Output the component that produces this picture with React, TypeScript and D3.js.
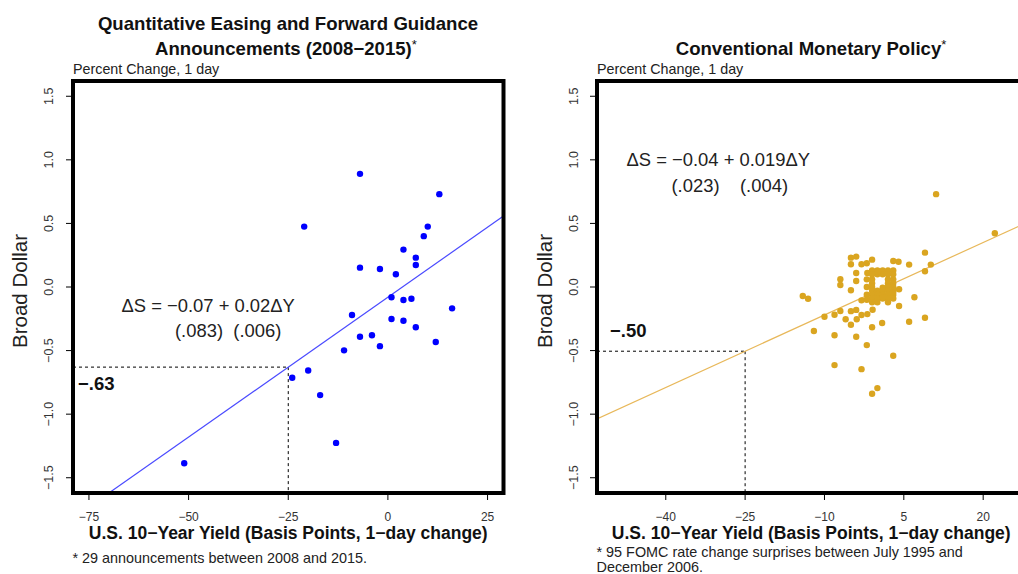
import React from "react";
import * as d3 from "d3";

// ---------- Data ----------
const qeYield = [-7.0, 12.9, -21.0, 10.0, 9.0, 3.9, 7.0, 7.0, -7.0, -2.0, 2.0, 0.9, 3.9, 5.9, 16.1, -9.0, 0.9, 3.9, 7.0, -7.0, -4.0, -2.0, 12.0, -11.0, -20.0, -24.0, -17.0, -13.0, -51.1];
const qeDollar = [0.89, 0.73, 0.475, 0.475, 0.40, 0.294, 0.231, 0.173, 0.152, 0.142, 0.10, -0.081, -0.102, -0.092, -0.168, -0.22, -0.252, -0.265, -0.317, -0.391, -0.38, -0.465, -0.433, -0.498, -0.657, -0.714, -0.85, -1.226, -1.386];

const convYield = [
  11.1, 22.2, 9.0, -5.0, -4.0, -5.0, -3.0, -2.0, -1.0, 3.0, 4.0, 6.0, 10.1, -4.0, -1.9, 9.0, -7.0, -7.0, -4.0, -5.0,
  -14.1, -13.1, 7.0, -3.0, 4.1, 4.1, -0.9, -10.0, -8.1, -7.0, -6.0, -3.9, -3.0, -1.9, -5.0, -1.0, 0.9, 6.0, 9.0, -12.0,
  -8.1, -4.0, -2.0, 3.0, -8.1, -3.0, 0.0, -1.0, -5.0, -4.0,
  -1, 0, 1, 2, 3,
  -1, 0, 1, 2, 3,
  -2, -1, 2, 3,
  -1, 2, 3,
  -2, -1, 2, 3, 1,
  -1, 0, 1, 2, 3,
  -2, -1, 0, 1, 2, 3,
  -1, 0, 1, 2, 3,
  -1, 0, 2,
  0, 1, -2, 3,
];
const convDollar = [
  0.73, 0.423, 0.27, 0.231, 0.239, 0.179, 0.179, 0.187, 0.215, 0.205, 0.199, 0.176, 0.176, 0.11, 0.11, 0.124, 0.061, 0.016, 0.047, -0.026,
  -0.071, -0.092, -0.081, -0.105, -0.018, -0.15, -0.179, -0.234, -0.218, -0.189, -0.254, -0.254, -0.22, -0.213, -0.297, -0.317, -0.283, -0.273, -0.242, -0.346,
  -0.38, -0.391, -0.457, -0.541, -0.614, -0.646, -0.795, -0.84, -0.19, -0.18,
  0.13, 0.13, 0.13, 0.13, 0.13,
  0.10, 0.10, 0.10, 0.10, 0.10,
  0.06, 0.06, 0.06, 0.06,
  0.03, 0.03, 0.03,
  0.0, 0.0, 0.0, 0.0, -0.005,
  -0.03, -0.03, -0.03, -0.03, -0.03,
  -0.06, -0.06, -0.06, -0.06, -0.06, -0.06,
  -0.09, -0.09, -0.09, -0.09, -0.09,
  -0.12, -0.12, -0.12,
  0.12, -0.08, -0.10, -0.04,
];

const yTicks = [-1.5, -1.0, -0.5, 0.0, 0.5, 1.0, 1.5];
const yTickLabels = ["\u22121.5", "\u22121.0", "\u22120.5", "0.0", "0.5", "1.0", "1.5"];
const qeXTicks = [-75, -50, -25, 0, 25];
const convXTicks = [-40, -25, -10, 5, 20];

const qeFit = { intercept: -0.08, slope: 0.022 };
const convFit = { intercept: -0.03, slope: 0.019 };

const FONT = "Liberation Sans, Arial, Helvetica, sans-serif";

const fmtTick = (v: number) => (v < 0 ? "\u2212" + Math.abs(v) : String(v));

type PanelProps = {
  x0: number;
  x1: number;
  xDomain: [number, number];
  xTicks: number[];
  xs: number[];
  ys: number[];
  color: string;
  lineColor: string;
  fit: { intercept: number; slope: number };
  refX: number;
  refLabel: string;
  refLabelPos: [number, number];
  eq1: string;
  eq2: string;
  eq1Pos: [number, number];
  eq2Pos: [number, number];
  ylabX: number;
  ytickX: number;
  clipId: string;
};

const TOP = 81;
const BOTTOM = 493;

function Panel(p: PanelProps) {
  const x = d3.scaleLinear().domain(p.xDomain).range([p.x0, p.x1]);
  const y = d3.scaleLinear().domain([-1.62, 1.62]).range([BOTTOM, TOP]);
  const line = d3
    .line<number>()
    .x((d) => x(d))
    .y((d) => y(p.fit.intercept + p.fit.slope * d));
  const refY = p.fit.intercept + p.fit.slope * p.refX;
  return (
    <g fontFamily={FONT}>
      <defs>
        <clipPath id={p.clipId}>
          <rect x={p.x0} y={TOP} width={p.x1 - p.x0} height={BOTTOM - TOP} />
        </clipPath>
      </defs>
      {/* y ticks */}
      {yTicks.map((t, i) => (
        <g key={"yt" + i}>
          <line x1={p.x0 - 7} x2={p.x0} y1={y(t)} y2={y(t)} stroke="#000" strokeWidth={1} />
          <text
            transform={`translate(${p.ytickX},${y(t)}) rotate(-90)`}
            textAnchor="middle"
            fontSize={12.5}
            fill="#333"
          >
            {yTickLabels[i]}
          </text>
        </g>
      ))}
      {/* x ticks */}
      {p.xTicks.map((t, i) => (
        <g key={"xt" + i}>
          <line x1={x(t)} x2={x(t)} y1={BOTTOM} y2={BOTTOM + 7} stroke="#000" strokeWidth={1} />
          <text x={x(t)} y={520.5} textAnchor="middle" fontSize={12} fill="#333">
            {fmtTick(t)}
          </text>
        </g>
      ))}
      <g clipPath={`url(#${p.clipId})`}>
        {/* dashed reference */}
        <line x1={p.x0} x2={x(p.refX)} y1={y(refY)} y2={y(refY)} stroke="#000" strokeWidth={1} strokeDasharray="3,3" />
        <line x1={x(p.refX)} x2={x(p.refX)} y1={y(refY)} y2={BOTTOM} stroke="#000" strokeWidth={1} strokeDasharray="3,3" />
        <path d={line(p.xDomain as number[]) || ""} stroke={p.lineColor} strokeWidth={1.2} fill="none" />
        {p.xs.map((v, i) => (
          <circle key={"pt" + i} cx={x(v)} cy={y(p.ys[i])} r={3.2} fill={p.color} />
        ))}
      </g>
      <rect x={p.x0} y={TOP} width={p.x1 - p.x0} height={BOTTOM - TOP} fill="none" stroke="#000" strokeWidth={4} />
      <text x={p.refLabelPos[0]} y={p.refLabelPos[1]} fontSize={18.5} fontWeight="bold" fill="#111">
        {p.refLabel}
      </text>
      <text x={p.eq1Pos[0]} y={p.eq1Pos[1]} fontSize={18.4} fill="#222">
        {p.eq1}
      </text>
      <text x={p.eq2Pos[0]} y={p.eq2Pos[1]} fontSize={18.4} fill="#222" style={{ whiteSpace: "pre" }}>
        {p.eq2}
      </text>
      <text x={p.x0} y={73.5} fontSize={14.3} fill="#222">
        Percent Change, 1 day
      </text>
      <text
        transform={`translate(${p.ylabX},${291}) rotate(-90)`}
        textAnchor="middle"
        fontSize={20.5}
        fill="#222"
      >
        Broad Dollar
      </text>
      <text x={(p.x0 + Math.min(p.x1, 1026)) / 2} y={539} textAnchor="middle" fontSize={17.5} fontWeight="bold" fill="#111">
        U.S. 10{"\u2212"}Year Yield (Basis Points, 1{"\u2212"}day change)
      </text>
    </g>
  );
}

export default function App() {
  return (
    <svg
      width={1018}
      height={574}
      style={{ position: "absolute", left: 0, top: 0, background: "#fff" }}
      fontFamily={FONT}
    >
      <rect x={0} y={0} width={1018} height={574} fill="#fff" />
      {/* Left panel */}
      <text x={288} y={29.5} textAnchor="middle" fontSize={18.6} fontWeight="bold" fill="#111">
        Quantitative Easing and Forward Guidance
      </text>
      <text x={155} y={55} fontSize={18.6} fontWeight="bold" fill="#111">
        Announcements (2008{"\u2212"}2015)
        <tspan fontWeight="normal" fontSize={13} dy={-6}>*</tspan>
      </text>
      <Panel
        x0={73}
        x1={503.5}
        xDomain={[-79, 29]}
        xTicks={qeXTicks}
        xs={qeYield}
        ys={qeDollar}
        color="#0000FF"
        lineColor="#4A4AFF"
        fit={qeFit}
        refX={-25}
        refLabel={"\u2212.63"}
        refLabelPos={[78, 390]}
        eq1={"\u0394S = \u22120.07 + 0.02\u0394Y"}
        eq2={"(.083)  (.006)"}
        eq1Pos={[121.5, 312]}
        eq2Pos={[175, 337]}
        ylabX={27}
        ytickX={53}
        clipId="clipL"
      />
      <text x={72.5} y={563} fontSize={14.4} fill="#222">
        * 29 announcements between 2008 and 2015.
      </text>

      {/* Right panel */}
      <text x={811} y={55} textAnchor="middle" fontSize={18.6} fontWeight="bold" fill="#111">
        Conventional Monetary Policy
        <tspan fontWeight="normal" fontSize={13} dy={-6}>*</tspan>
      </text>
      <Panel
        x0={597}
        x1={1025.5}
        xDomain={[-53, 28]}
        xTicks={convXTicks}
        xs={convYield}
        ys={convDollar}
        color="#DAA520"
        lineColor="#E8B85A"
        fit={convFit}
        refX={-25}
        refLabel={"\u2212.50"}
        refLabelPos={[610, 337]}
        eq1={"\u0394S = \u22120.04 + 0.019\u0394Y"}
        eq2={"(.023)    (.004)"}
        eq1Pos={[626.5, 166]}
        eq2Pos={[671.5, 191.5]}
        ylabX={552}
        ytickX={578}
        clipId="clipR"
      />
      <text x={596.5} y={557} fontSize={14.4} fill="#222">
        * 95 FOMC rate change surprises between July 1995 and
      </text>
      <text x={596.5} y={571.5} fontSize={14.4} fill="#222">
        December 2006.
      </text>
    </svg>
  );
}
